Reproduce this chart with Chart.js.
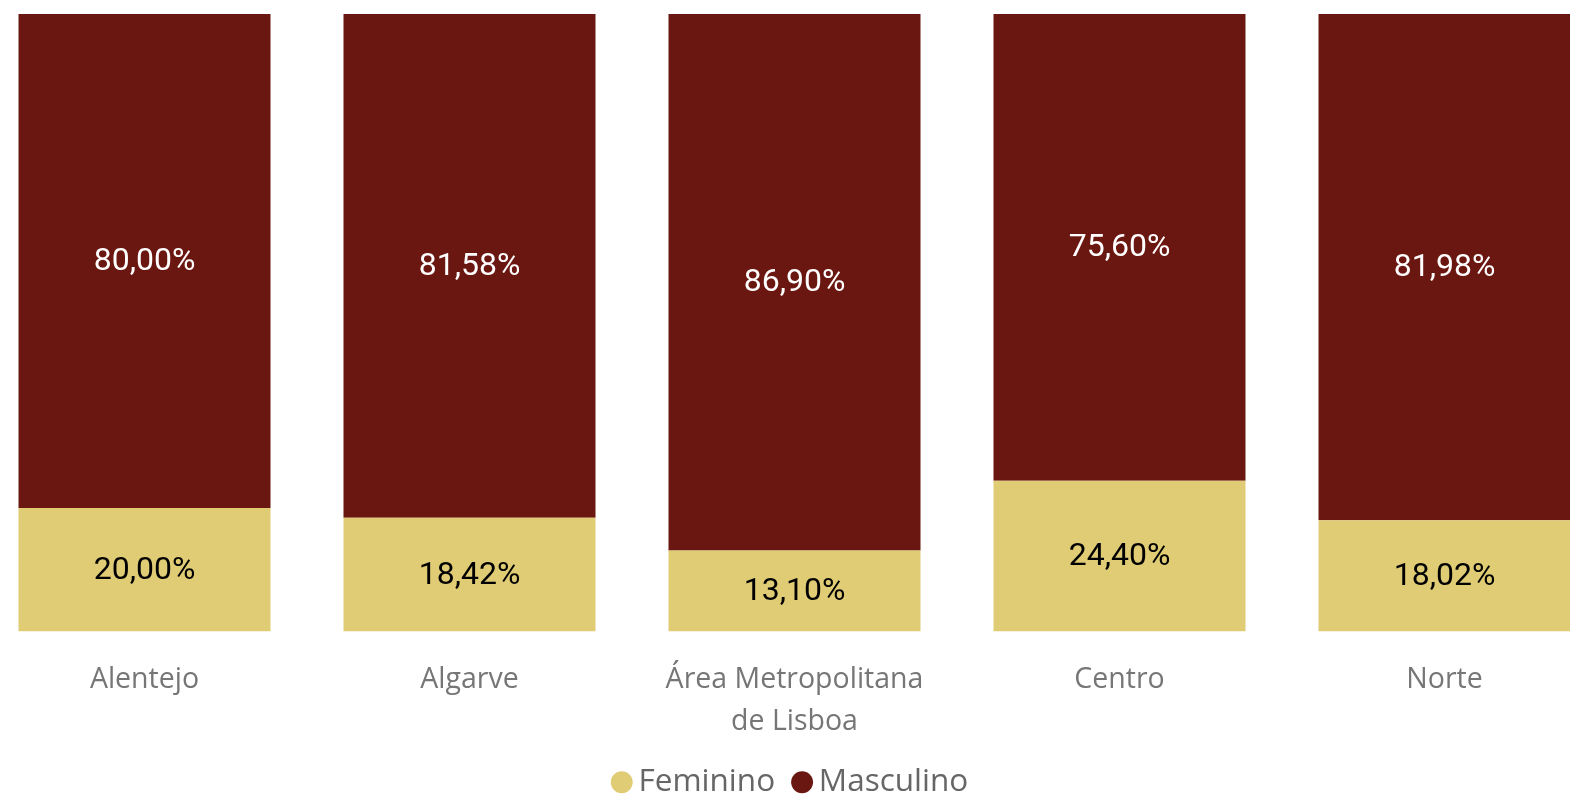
<!DOCTYPE html>
<html>
<head>
<meta charset="utf-8">
<script src="https://cdn.jsdelivr.net/npm/chart.js@4"></script>
<style>
  html, body { margin: 0; padding: 0; background: #fff; overflow: hidden; }
  #wrap { position: absolute; left: -18px; top: 0; width: 1625px; height: 808px; }
</style>
</head>
<body>
<div id="wrap"><canvas id="myChart"></canvas></div>
<script>
const regions = [
  'Alentejo',
  'Algarve',
  ['Área Metropolitana', 'de Lisboa'],
  'Centro',
  'Norte',
];

const feminino = [20.0, 18.42, 13.1, 24.4, 18.02];
const masculino = [80.0, 81.58, 86.9, 75.6, 81.98];

const colors = {
  feminino: '#E0CC74',
  masculino: '#6B1711',
};

const fmtPct = (v) => v.toFixed(2).replace('.', ',') + '%';

// value labels in the middle of each stacked segment
const segmentLabels = {
  id: 'segmentLabels',
  afterDatasetsDraw(chart) {
    const ctx = chart.ctx;
    ctx.save();
    ctx.font = '400 32px Roboto';
    ctx.textAlign = 'center';
    ctx.textBaseline = 'middle';
    chart.data.datasets.forEach((ds, i) => {
      const meta = chart.getDatasetMeta(i);
      meta.data.forEach((bar, j) => {
        const mid = (bar.y + bar.base) / 2 + 1;
        ctx.fillStyle = ds.labelColor;
        ctx.fillText(fmtPct(ds.data[j]), bar.x, mid);
      });
    });
    ctx.restore();
  },
};

const chartData = {
  labels: regions,
  datasets: [
    {
      label: 'Feminino',
      data: feminino,
      backgroundColor: colors.feminino,
      labelColor: '#000',
    },
    {
      label: 'Masculino',
      data: masculino,
      backgroundColor: colors.masculino,
      labelColor: '#fff',
    },
  ],
};

const config = {
  type: 'bar',
  data: chartData,
  options: {
    responsive: true,
    maintainAspectRatio: false,
    animation: false,
    categoryPercentage: 1,
    barPercentage: 0.7754,
    layout: { padding: { top: 14 } },
    scales: {
      x: {
        stacked: true,
        grid: { display: false, drawTicks: false },
        border: { display: false },
        ticks: {
          padding: 28,
          color: '#767676',
          font: { family: 'Open Sans', size: 28.5, lineHeight: 1.45 },
          maxRotation: 0,
          autoSkip: false,
        },
        afterFit: (scale) => {
          scale.height = 109;
        },
      },
      y: {
        stacked: true,
        display: false,
        min: 0,
        max: 100,
      },
    },
    plugins: {
      tooltip: { enabled: false },
      legend: {
        position: 'bottom',
        labels: {
          usePointStyle: true,
          pointStyle: 'circle',
          boxWidth: 2,
          boxHeight: 15.5,
          padding: 26,
          color: '#666',
          font: { family: 'Open Sans', size: 31.5 },
        },
      },
    },
  },
  plugins: [segmentLabels],
};

const myChart = new Chart(document.querySelector('#myChart'), config);
</script>
</body>
</html>
